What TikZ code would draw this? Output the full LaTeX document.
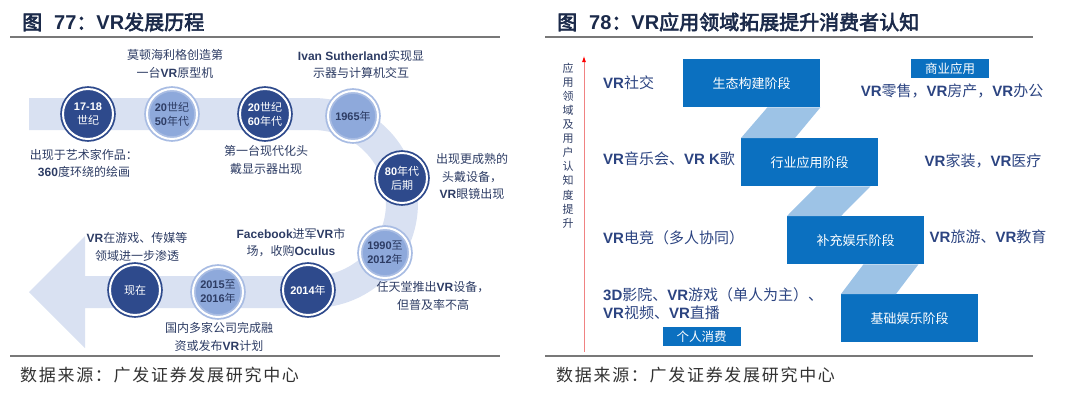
\documentclass[tikz,border=0pt]{standalone}
\usepackage{fontspec}
\setmainfont{Noto Sans CJK SC}[AutoFakeBold=3]
\newfontfamily\enfont{Liberation Sans}
\usetikzlibrary{arrows.meta,calc,positioning}

\definecolor{mynavy}{RGB}{46,74,140}
\definecolor{mylight}{RGB}{142,169,219}
\definecolor{mylightring}{RGB}{168,188,227}
\definecolor{myband}{RGB}{217,225,242}
\definecolor{mytext}{RGB}{45,60,100}
\definecolor{myapp}{RGB}{44,68,129}
\definecolor{myblue}{RGB}{11,112,192}
\definecolor{myribbon}{RGB}{157,195,230}
\definecolor{myhead}{RGB}{27,42,74}
\definecolor{myrule}{RGB}{120,120,120}
\definecolor{mysrc}{RGB}{50,50,50}
\definecolor{myaxis}{RGB}{240,130,130}

\newcommand{\en}[1]{{\enfont\bfseries #1}}
\newcommand{\sizeera}{50pt}
\newcommand{\widthstage}{137pt}
\newcommand{\heightstage}{48pt}

\tikzset{
    era/.style={circle, minimum size=\sizeera, inner sep=0pt, line width=1.8pt,
        double=white, double distance=2pt, align=center, font=\fontsize{11}{14}\selectfont},
    darkera/.style={era, fill=mynavy, draw=mynavy, text=white},
    lightera/.style={era, fill=mylight, draw=mylightring, text=mytext},
    note/.style={align=center, text=mytext, font=\fontsize{12}{17.5}\selectfont, inner sep=0pt},
    stage/.style={anchor=north west, fill=myblue, text=white, minimum width=\widthstage,
        minimum height=\heightstage, inner sep=0pt, font=\fontsize{13}{15}\selectfont},
    tag/.style={fill=myblue, text=white, minimum width=78pt, minimum height=19pt,
        inner sep=0pt, font=\fontsize{12.5}{14}\selectfont},
    app/.style={text=myapp, font=\fontsize{15}{18}\selectfont, inner sep=0pt, align=left},
    ribbon/.style={fill=myribbon},
    titletext/.style={anchor=west, text=myhead, font=\fontsize{20}{24}\selectfont\bfseries, inner sep=0pt},
    srctext/.style={anchor=west, text=mysrc, inner sep=0pt,
        font=\fontsize{17}{20}\selectfont\addfontfeatures{LetterSpace=10}},
    titlerule/.style={draw=myrule, line width=1.5pt},
    axistext/.style={align=center, text=mytext, inner sep=0pt, font=\fontsize{11}{14.1}\selectfont}
}

\begin{document}
\begin{tikzpicture}[x=1pt, y=-1pt]
\useasboundingbox (0,0) rectangle (1080,405);

% left: VR history
\node[titletext] (t77) at (22,22) {图\hspace{0.6em}\en{77}：\en{VR}发展历程};
\draw[titlerule] (10,37) -- (500,37);
\draw[titlerule] (10,356) -- (500,356);
\node[srctext] (s77) at (20,375) {数据来源：广发证券发展研究中心};

\fill[myband] (29,98) -- (313,98) arc[start angle=-90, end angle=90, radius=105]
    -- (85,308) -- (85,348) -- (29,292) -- (85,236) -- (85,276) -- (313,276)
    arc[start angle=90, end angle=-90, radius=73] -- (29,130) -- cycle;

\node[darkera] (c1) at (88,114) {\en{17-18}\\世纪};
\node[lightera] (c2) at (172,114) {\en{20}世纪\\\en{50}年代};
\node[darkera] (c3) at (265,114) {\en{20}世纪\\\en{60}年代};
\node[lightera] (c4) at (353,116) {\en{1965}年};
\node[darkera] (c5) at (402,178) {\en{80}年代\\后期};
\node[lightera] (c6) at (385,253) {\en{1990}至\\\en{2012}年};
\node[darkera] (c7) at (308,290) {\en{2014}年};
\node[lightera] (c8) at (218,292) {\en{2015}至\\\en{2016}年};
\node[darkera] (c9) at (135,290) {现在};

\node[note] (n1) at (84,163.5) {出现于艺术家作品：\\\en{360}度环绕的绘画};
\node[note] (n2) at (175,64) {莫顿海利格创造第\\一台\en{VR}原型机};
\node[note] (n3) at (266,160) {第一台现代化头\\戴显示器出现};
\node[note] (n4) at (361,64.5) {\en{Ivan Sutherland}实现显\\示器与计算机交互};
\node[note] (n5) at (472,176.5) {出现更成熟的\\头戴设备，\\\en{VR}眼镜出现};
\node[note] (n6) at (433,296) {任天堂推出\en{VR}设备，\\但普及率不高};
\node[note] (n7) at (291,242.5) {\en{Facebook}进军\en{VR}市\\场，收购\en{Oculus}};
\node[note] (n8) at (219,337) {国内多家公司完成融\\资或发布\en{VR}计划};
\node[note] (n9) at (137,247) {\en{VR}在游戏、传媒等\\领域进一步渗透};

% right: VR application stages
\node[titletext] (t78) at (557,22) {图\hspace{0.6em}\en{78}：\en{VR}应用领域拓展提升消费者认知};
\draw[titlerule] (545,37) -- (1033,37);
\draw[titlerule] (545,356) -- (1033,356);
\node[srctext] (s78) at (556,375) {数据来源：广发证券发展研究中心};

\coordinate (ax0) at (584,352);
\coordinate (ax1) at (584,56);
\draw[myaxis, line width=0.8pt, -{Latex[length=6pt, width=4pt, color=red]}] (ax0) -- (ax1);
\node[axistext] (vt) at (568,145.5) {应\\用\\领\\域\\及\\用\\户\\认\\知\\度\\提\\升};

\node[stage] (s1) at (683,59) {生态构建阶段};
\node[stage] (s2) at (741,138) {行业应用阶段};
\node[stage] (s3) at (787,216) {补充娱乐阶段};
\node[stage] (s4) at (841,294) {基础娱乐阶段};

\fill[ribbon] ($(s1.south east)+(-53,0)$) -- (s1.south east) -- ($(s2.north west)+(54,0)$) -- (s2.north west) -- cycle;
\fill[ribbon] ($(s2.south east)+(-62,0)$) -- ($(s2.south east)+(-8,0)$) -- ($(s3.north west)+(54,0)$) -- (s3.north west) -- cycle;
\fill[ribbon] ($(s3.south east)+(-61,0)$) -- ($(s3.south east)+(-6,0)$) -- ($(s4.north west)+(55,0)$) -- (s4.north west) -- cycle;

\node[app, anchor=west] (a1) at (603,83) {\en{VR}社交};
\node[app, anchor=west] (a2) at (603,159) {\en{VR}音乐会、\en{VR K}歌};
\node[app, anchor=west] (a3) at (603,238) {\en{VR}电竞（多人协同）};
\node[app, anchor=west] (a4) at (603,304) {\en{3D}影院、\en{VR}游戏（单人为主）、\\\en{VR}视频、\en{VR}直播};
\node[tag] (g1) at (701.5,336.5) {个人消费};
\node[tag] (g2) at (950,68.5) {商业应用};
\node[app] (a5) at (952,91) {\en{VR}零售，\en{VR}房产，\en{VR}办公};
\node[app] (a6) at (983,161) {\en{VR}家装，\en{VR}医疗};
\node[app] (a7) at (988,237) {\en{VR}旅游、\en{VR}教育};
\end{tikzpicture}
\end{document}
